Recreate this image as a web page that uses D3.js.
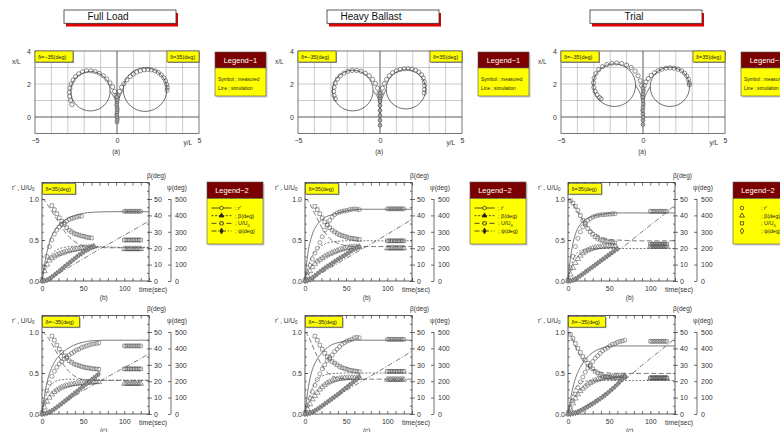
<!DOCTYPE html>
<html>
<head>
<meta charset="utf-8">
<script src="https://cdn.jsdelivr.net/npm/d3@7"></script>
<style>
  body { margin: 0; background: #fff; }
  svg { font-family: "Liberation Sans", Arial, sans-serif; }
</style>
</head>
<body>
<svg id="chart" width="780" height="432"></svg>
<script>
// ---------- data ----------
const conditions = ["Full Load", "Heavy Ballast", "Trial"];
const condKeys = ["FL", "HB", "TR"];

// turning trajectories, points are [y/L, x/L]
const simCircle = { // [centre y/L, centre x/L, radius]
  FLport: [-1.62, 1.56, 1.2], FLstbd: [1.71, 1.66, 1.33],
  HBport: [-1.66, 1.6, 1.24], HBstbd: [1.58, 1.68, 1.2],
  TRport: [-1.75, 1.93, 1.3], TRstbd: [1.64, 1.83, 1.2]
};
const simApproach = {
  FLport: [[0, 0], [-0.02, 0.6], [-0.13, 1.1], [-0.42, 1.56]],
  FLstbd: [[0, 0], [0.02, 0.6], [0.13, 1.15], [0.38, 1.66]],
  HBport: [[0, 0], [-0.02, 0.6], [-0.13, 1.15], [-0.42, 1.6]],
  HBstbd: [[0, 0], [0.02, 0.6], [0.13, 1.15], [0.38, 1.68]],
  TRport: [[0, 0], [-0.02, 0.7], [-0.14, 1.35], [-0.45, 1.93]],
  TRstbd: [[0, 0], [0.02, 0.7], [0.14, 1.3], [0.44, 1.83]]
};
const measTrack = {
  FLport: [[-0.06,1.3],[-0.15,1.55],[-0.27,1.82],[-0.43,2.07],[-0.62,2.3],[-0.84,2.5],[-1.08,2.65],[-1.33,2.75],[-1.6,2.8],[-1.86,2.8],[-2.1,2.74],[-2.33,2.62],[-2.52,2.45],[-2.68,2.24],[-2.8,2.0],[-2.87,1.75],[-2.9,1.5],[-2.88,1.25],[-2.83,1.0],[-2.75,0.75]],
  FLstbd: [[0.05,1.3],[0.15,1.55],[0.28,1.8],[0.42,2.02],[0.6,2.25],[0.8,2.45],[1.0,2.6],[1.2,2.72],[1.42,2.8],[1.65,2.86],[1.88,2.88],[2.1,2.86],[2.32,2.8],[2.52,2.7],[2.7,2.55],[2.85,2.38],[2.96,2.18],[3.03,1.97],[3.06,1.78],[3.06,1.62]],
  HBport: [[-0.06,1.45],[-0.15,1.75],[-0.28,2.03],[-0.45,2.28],[-0.66,2.5],[-0.9,2.66],[-1.16,2.77],[-1.43,2.82],[-1.7,2.82],[-1.96,2.77],[-2.2,2.66],[-2.42,2.5],[-2.6,2.3],[-2.73,2.06],[-2.8,1.8],[-2.83,1.55],[-2.8,1.3],[-2.72,1.1]],
  HBstbd: [[0.06,1.45],[0.15,1.75],[0.26,2.02],[0.4,2.28],[0.57,2.5],[0.77,2.68],[1.0,2.8],[1.24,2.88],[1.48,2.92],[1.72,2.93],[1.95,2.9],[2.17,2.83],[2.37,2.72],[2.53,2.56],[2.64,2.36],[2.7,2.13],[2.72,1.9],[2.72,1.66],[2.7,1.45]],
  TRport: [[-0.08,1.9],[-0.17,2.2],[-0.3,2.5],[-0.48,2.78],[-0.72,3.0],[-1.0,3.15],[-1.3,3.24],[-1.6,3.27],[-1.9,3.25],[-2.2,3.18],[-2.47,3.05],[-2.7,2.87],[-2.87,2.63],[-2.98,2.36],[-3.02,2.08],[-3.0,1.8],[-2.92,1.55],[-2.8,1.35],[-2.65,1.18],[-2.55,1.1]],
  TRstbd: [[0.08,1.9],[0.18,2.12],[0.32,2.33],[0.5,2.52],[0.7,2.68],[0.92,2.8],[1.15,2.9],[1.4,2.96],[1.65,2.98],[1.9,2.96],[2.13,2.9],[2.35,2.8],[2.53,2.66],[2.67,2.48],[2.77,2.28],[2.82,2.06],[2.83,1.95]]
};
const measCentre = {
  FL: [[0,-0.3],[0.02,-0.15],[0,0],[-0.02,0.15],[0,0.3],[0.02,0.45],[0,0.6],[-0.02,0.75],[0,0.9],[0.02,1.05],[0,1.2]],
  HB: [[0,-0.5],[0,-0.2],[0,0.1],[0,0.4],[0,0.7],[0,0.95],[0,1.15],[0,1.3],[0,1.45]],
  TR: [[0,-0.45],[0,-0.2],[0.02,0.0],[0,0.2],[-0.02,0.4],[0,0.6],[0.02,0.8],[0,1.0],[-0.02,1.2],[0,1.4],[0.02,1.6],[0,1.75]]
};

// time histories
const measT = [0,3,6,9,12,15,18,21,24,27,30,33,36,39,42,45,48,51,54,57,60,63,66,69];
const steadyT = [100,102,104,106,108,110,112,114,116,118,120];
const simT = [0,2,4,6,8,10,15,20,25,30,40,50,60,70,80,90,100,110,120,130];

const rMeas = {
  FL35:  [0.02,0.17,0.3,0.42,0.5,0.57,0.62,0.66,0.69,0.71,0.73,0.75,0.76,0.77,0.78,0.79,0.79,null,null,null,null,null,null,null],
  FLm35: [0.02,0.14,0.28,0.38,0.46,0.52,0.57,0.61,0.64,0.67,0.7,0.72,0.74,0.76,0.78,0.79,0.81,0.82,0.83,0.84,0.85,0.855,0.86,0.865],
  HB35:  [0.02,0.1,0.19,0.27,0.34,0.4,0.47,0.54,0.62,0.69,0.74,0.78,0.81,0.83,0.84,0.85,0.855,0.86,0.87,0.875,0.88,0.875,0.87,null],
  HBm35: [0.02,0.1,0.19,0.27,0.35,0.42,0.49,0.55,0.6,0.65,0.69,0.72,0.76,0.79,0.82,0.85,0.87,0.89,0.9,0.91,0.93,0.935,0.93,null],
  TR35:  [0.02,0.15,0.3,0.42,0.52,0.6,0.66,0.71,0.74,0.76,0.78,0.79,0.8,0.805,0.81,0.81,0.815,0.815,0.82,0.82,null,null,null,null],
  TRm35: [0.02,0.08,0.16,0.24,0.32,0.39,0.45,0.51,0.56,0.6,0.64,0.68,0.71,0.74,0.77,0.79,0.81,0.83,0.85,0.86,0.875,0.885,0.89,0.9]
};
const betaMeas = { // deg
  FL35:  [0,6,10,12.5,14,15,15.8,16.5,17,17.5,18,18.4,18.8,19.1,19.4,19.7,20,20.2,20.4,20.6,20.8,21,null,null],
  FLm35: [0,4,7.5,10,12,13.5,14.5,15.5,16.2,16.8,17.3,17.7,18,18.3,18.5,18.7,18.9,19,19.1,19.2,19.3,19.4,19.5,19.5],
  HB35:  [0,3,6,8.5,10.5,12,13,14,15,15.8,16.5,17.2,17.8,18.4,19,19.4,19.8,20.2,20.5,20.7,20.8,20.8,20.8,null],
  HBm35: [0,3,6,9,11,13,15,16.5,17.8,18.8,19.6,20.3,20.8,21.2,21.5,21.7,21.8,21.9,22,22,22,22,22,null],
  TR35:  [0,4,8,11,13.5,15.5,17,18,18.8,19.4,19.9,20.3,20.6,20.8,21,21.1,21.2,21.3,21.3,21.3,null,null,null,null],
  TRm35: [0,3,6.5,9.5,12,14,15.5,16.8,18,19,19.8,20.5,21,21.5,21.9,22.2,22.5,22.7,22.9,23,23.1,23.2,23.2,23.2]
};
const uMeas = {
  FL35:  [null,null,null,null,0.92,0.87,0.82,0.77,0.73,0.69,0.65,0.62,0.6,0.58,0.57,0.56,0.55,0.545,0.535,0.53,0.525,null,null,null],
  FLm35: [null,null,null,null,0.95,0.9,0.84,0.79,0.75,0.71,0.68,0.65,0.63,0.61,0.6,0.59,0.58,0.57,0.565,0.56,0.555,0.55,0.55,0.545],
  HB35:  [null,null,null,null,0.91,0.87,0.82,0.77,0.72,0.68,0.65,0.62,0.6,0.58,0.565,0.555,0.545,0.535,0.525,0.52,0.515,0.51,0.505,null],
  HBm35: [null,null,null,null,0.95,0.9,0.84,0.79,0.74,0.7,0.67,0.64,0.62,0.6,0.58,0.565,0.555,0.545,0.535,0.53,0.525,0.52,0.515,null],
  TR35:  [null,0.98,0.95,0.91,0.86,0.8,0.74,0.69,0.64,0.6,0.57,0.54,0.52,0.505,0.495,0.485,0.48,0.475,0.47,0.465,null,null,null,null],
  TRm35: [null,0.97,0.92,0.86,0.8,0.75,0.7,0.66,0.62,0.58,0.55,0.52,0.5,0.48,0.465,0.455,0.45,0.445,0.44,0.44,0.44,0.44,0.445,0.45]
};
const psiMeas = { // deg
  FL35:  [0,2,6,14,24,36,48,60,73,86,98,110,122,134,146,158,168,178,188,196,204,210,null,null],
  FLm35: [0,2,6,12,20,30,41,52,64,76,88,100,112,124,136,148,160,172,184,196,208,220,232,244],
  HB35:  [0,3,10,20,32,44,56,67,78,88,98,108,118,128,138,147,156,166,176,186,195,202,208,null],
  HBm35: [0,2,6,12,20,29,39,50,61,72,83,94,105,116,128,140,152,164,176,188,200,212,226,null],
  TR35:  [0,2,6,13,22,32,43,54,65,76,87,98,109,120,131,142,153,164,175,186,197,null,null,null],
  TRm35: [0,1,3,7,13,20,28,36,45,54,63,73,83,93,104,115,127,140,153,167,181,196,212,228]
};
// steady turning values measured between 100 and 120 s
const rSteady    = { FL35: 0.85, FLm35: 0.83, HB35: 0.88, HBm35: 0.91, TR35: 0.85, TRm35: 0.886 };
const betaSteady = { FL35: 19.5, FLm35: 18.5, HB35: 20,   HBm35: 21,   TR35: 21,   TRm35: 21.8 };
const uSteady    = { FL35: 0.5,  FLm35: 0.55, HB35: 0.49, HBm35: 0.52, TR35: 0.45, TRm35: 0.44 };

const rSim = {
  FL35:  [0,0.13,0.25,0.35,0.43,0.5,0.61,0.68,0.72,0.76,0.8,0.825,0.838,0.842,0.845,0.845,0.845,0.845,0.845,0.845],
  FLm35: [0,0.15,0.28,0.38,0.46,0.52,0.63,0.7,0.75,0.79,0.845,0.875,0.893,0.898,0.9,0.9,0.9,0.9,0.9,0.9],
  HB35:  [0,0.22,0.37,0.47,0.54,0.6,0.69,0.74,0.78,0.8,0.83,0.855,0.87,0.875,0.875,0.875,0.875,0.875,0.875,0.875],
  HBm35: [0,0.18,0.32,0.43,0.51,0.57,0.67,0.74,0.79,0.83,0.87,0.89,0.9,0.9,0.9,0.9,0.9,0.9,0.9,0.9],
  TR35:  [0,0.2,0.35,0.46,0.54,0.6,0.69,0.74,0.77,0.79,0.81,0.825,0.83,0.83,0.83,0.83,0.83,0.83,0.83,0.83],
  TRm35: [0,0.12,0.23,0.32,0.4,0.46,0.57,0.65,0.71,0.75,0.8,0.825,0.83,0.83,0.83,0.83,0.83,0.83,0.83,0.83]
};
const betaSim = {
  FL35:  [0,5,9,12,14,15.5,18,19.5,20.3,20.8,21.2,21.3,21.2,21,20.8,20.6,20.5,20.5,20.5,20.5],
  FLm35: [0,5,9.5,13,15.5,17,19.5,20.5,21,21.2,21.2,21,20.8,20.7,20.6,20.6,20.6,20.6,20.6,20.6],
  HB35:  [0,5,9,12,14.5,16.5,19.5,21.5,22.8,23.6,24.2,24.5,24.5,24.5,24.5,24.5,24.5,24.5,24.5,24.5],
  HBm35: [0,4,8,11.5,14.5,17,21,23,24,24.5,24.8,25,25,25,25,25,25,25,25,25],
  TR35:  [0,5,9,12.5,15,16.5,18.5,19.3,19.6,19.8,19.8,19.8,19.8,19.8,19.8,19.8,19.8,19.8,19.8,19.8],
  TRm35: [0,4.5,8.5,12,14.5,16.5,19,20,20.3,20.4,20.4,20.4,20.4,20.4,20.4,20.4,20.4,20.4,20.4,20.4]
};
const uSim = {
  FL35:  [1,0.99,0.97,0.94,0.91,0.88,0.8,0.72,0.64,0.57,0.48,0.43,0.415,0.41,0.405,0.405,0.405,0.405,0.405,0.405],
  FLm35: [1,0.99,0.97,0.95,0.92,0.89,0.8,0.71,0.62,0.55,0.46,0.42,0.41,0.41,0.41,0.41,0.41,0.41,0.41,0.41],
  HB35:  [1,0.99,0.97,0.94,0.9,0.86,0.76,0.66,0.58,0.52,0.46,0.43,0.42,0.42,0.42,0.42,0.42,0.42,0.42,0.42],
  HBm35: [1,0.98,0.95,0.91,0.86,0.81,0.7,0.6,0.53,0.48,0.44,0.43,0.425,0.425,0.425,0.425,0.425,0.425,0.425,0.425],
  TR35:  [1,0.99,0.97,0.94,0.91,0.87,0.79,0.71,0.65,0.6,0.54,0.51,0.5,0.495,0.49,0.49,0.49,0.49,0.49,0.49],
  TRm35: [1,0.98,0.95,0.9,0.85,0.8,0.7,0.62,0.57,0.54,0.51,0.5,0.495,0.495,0.495,0.495,0.495,0.495,0.495,0.495]
};
const psiSim = {
  FL35:  [0,1,3,6,10,15,30,45,60,75,105,135,165,195,223,251,280,308,337,365],
  FLm35: [0,1,3,6,10,15,30,46,62,78,110,142,172,200,228,255,283,310,338,368],
  HB35:  [0,1,3,7,12,18,33,48,63,78,108,138,168,197,226,255,285,315,345,378],
  HBm35: [0,1,3,7,12,18,33,49,65,81,112,143,173,203,232,262,292,322,352,385],
  TR35:  [0,1,3,7,12,18,33,50,67,84,118,152,186,220,260,300,340,380,420,465],
  TRm35: [0,1,3,6,10,15,28,43,58,74,108,143,178,213,255,297,338,378,418,462]
};

const legend2Labels = ["r'", "β(deg)", "U/U", "ψ(deg)"];

// ---------- drawing ----------
const svg = d3.select("#chart");
const colDx = [0, 263, 526];
const ink = "#505050";
const series = ["r", "beta", "u", "psi"];
const meas = { r: rMeas, beta: betaMeas, u: uMeas, psi: psiMeas };
const sims = { r: rSim, beta: betaSim, u: uSim, psi: psiSim };
const steady = { r: rSteady, beta: betaSteady, u: uSteady };
const dash = { r: null, beta: "2,1.6", u: "5,2.5", psi: "5,1.8,1,1.8" };
const symType = { r: d3.symbolCircle, beta: d3.symbolTriangle, u: d3.symbolSquare, psi: d3.symbolDiamond };
const symFill = { r: "none", beta: "none", u: "none", psi: "#999" };

function styleAxis(sel, size) {
  sel.select(".domain").remove();
  sel.selectAll("line").attr("stroke", "#333").attr("stroke-width", 0.7);
  sel.selectAll("text").attr("font-size", size || 7).attr("fill", "#333")
    .attr("font-family", "'Liberation Sans', Arial, sans-serif");
}

function yellowTag(g, x, y, w, h, label) {
  g.append("rect").attr("x", x + 1).attr("y", y + 1).attr("width", w).attr("height", h).attr("fill", "#999");
  g.append("rect").attr("x", x).attr("y", y).attr("width", w).attr("height", h)
    .attr("fill", "#ffff00").attr("stroke", "#444").attr("stroke-width", 0.6);
  g.append("text").attr("x", x + 3).attr("y", y + h / 2 + 2).attr("font-size", 5.5).attr("fill", "#222").text(label);
}

// title boxes
conditions.forEach((name, i) => {
  const dx = colDx[i];
  const g = svg.append("g");
  g.append("rect").attr("x", 66 + dx).attr("y", 13).attr("width", 112).attr("height", 13.5).attr("fill", "#dd0000");
  g.append("rect").attr("x", 64 + dx).attr("y", 10).attr("width", 112).attr("height", 13.3)
    .attr("fill", "#fff").attr("stroke", "#333").attr("stroke-width", 0.8);
  g.append("text").attr("x", 108 + dx).attr("y", 20.3).attr("text-anchor", "middle")
    .attr("font-size", 10).attr("fill", "#111").text(name);
});

function drawTrajectory(ci) {
  const dx = colDx[ci];
  const key = condKeys[ci];
  const x = d3.scaleLinear([-5, 5], [35 + dx, 199 + dx]);
  const y = d3.scaleLinear([-1, 4], [133.5, 51]);
  const pxPerUnit = x(1) - x(0);
  const g = svg.append("g");

  g.selectAll(".vg").data(x.ticks(10).filter(v => v > -5 && v < 5)).join("line")
    .attr("x1", d => x(d)).attr("x2", d => x(d)).attr("y1", y(4)).attr("y2", y(-1))
    .attr("stroke", d => d === 0 ? "#333" : "#aaa").attr("stroke-width", d => d === 0 ? 0.8 : 0.6);
  g.selectAll(".hg").data(y.ticks(5).filter(v => v > -1 && v < 4)).join("line")
    .attr("y1", d => y(d)).attr("y2", d => y(d)).attr("x1", x(-5)).attr("x2", x(5))
    .attr("stroke", d => d === 0 ? "#333" : "#aaa").attr("stroke-width", d => d === 0 ? 0.8 : 0.6);
  g.append("rect").attr("x", x(-5)).attr("y", y(4)).attr("width", x(5) - x(-5)).attr("height", y(-1) - y(4))
    .attr("fill", "none").attr("stroke", "#555").attr("stroke-width", 0.8);

  g.append("g").attr("transform", `translate(0,${y(-1)})`)
    .call(d3.axisBottom(x).tickValues([-5, 0, 5]).tickFormat(d3.format("d")).tickSize(0).tickPadding(5))
    .call(styleAxis);
  g.append("g").attr("transform", `translate(${x(-5)},0)`)
    .call(d3.axisLeft(y).tickValues([0, 2, 4]).tickFormat(d3.format("d")).tickSize(0).tickPadding(4))
    .call(styleAxis);
  g.append("text").attr("x", x(-5) - 23).attr("y", y(3.2)).attr("font-size", 6.5).attr("fill", "#333").text("x/L");
  g.append("text").attr("x", x(4.05)).attr("y", y(-1) + 11).attr("font-size", 6.5).attr("fill", "#333").text("y/L");
  g.append("text").attr("x", x(-0.05)).attr("y", y(-1) + 20).attr("text-anchor", "middle")
    .attr("font-size", 6.5).attr("fill", "#333").text("(a)");

  const line = d3.line().x(d => x(d[0])).y(d => y(d[1])).curve(d3.curveCatmullRom);
  ["port", "stbd"].forEach(side => {
    const c = simCircle[key + side];
    g.append("circle").attr("cx", x(c[0])).attr("cy", y(c[1])).attr("r", c[2] * pxPerUnit)
      .attr("fill", "none").attr("stroke", "#333").attr("stroke-width", 0.7);
    g.append("path").attr("d", line(simApproach[key + side]))
      .attr("fill", "none").attr("stroke", "#333").attr("stroke-width", 0.7);
    g.selectAll(null).data(measTrack[key + side]).join("circle")
      .attr("cx", d => x(d[0])).attr("cy", d => y(d[1])).attr("r", 2.1)
      .attr("fill", "none").attr("stroke", "#444").attr("stroke-width", 0.6);
  });
  g.selectAll(null).data(measCentre[key]).join("circle")
    .attr("cx", d => x(d[0])).attr("cy", d => y(d[1])).attr("r", 1.9)
    .attr("fill", "#aaa").attr("stroke", "#444").attr("stroke-width", 0.6);

  yellowTag(g, x(-5), y(4), 38, 11, "δ=−35(deg)");
  yellowTag(g, x(5) - 32, y(4), 32, 11, "δ=35(deg)");

  // Legend-1
  const lx = 215 + dx;
  g.append("rect").attr("x", lx + 1.5).attr("y", 53.5).attr("width", 51).attr("height", 44).attr("fill", "#ccc");
  g.append("rect").attr("x", lx).attr("y", 52).attr("width", 51).attr("height", 16)
    .attr("fill", "#7b0000").attr("stroke", "#555").attr("stroke-width", 0.6);
  g.append("rect").attr("x", lx).attr("y", 68).attr("width", 51).attr("height", 28)
    .attr("fill", "#ffff00").attr("stroke", "#555").attr("stroke-width", 0.6);
  g.append("text").attr("x", lx + 25.5).attr("y", 63).attr("text-anchor", "middle")
    .attr("font-size", 7.5).attr("fill", "#fff").text("Legend−1");
  g.append("text").attr("x", lx + 3).attr("y", 80.5).attr("font-size", 4.8).attr("fill", "#222").text("Symbol ; measured");
  g.append("text").attr("x", lx + 3).attr("y", 89.5).attr("font-size", 4.8).attr("fill", "#222").text("Line ; simulation");
}

function drawTimeHistory(ci, row) {
  const dx = colDx[ci];
  const key = condKeys[ci] + (row === 0 ? "35" : "m35");
  const y0 = row === 0 ? 281 : 414;
  const yTop = y0 - 98.4;
  const t = d3.scaleLinear([0, 130], [42 + dx, 149 + dx]);
  const yl = d3.scaleLinear([0, 1.2], [y0, yTop]);
  const yb = d3.scaleLinear([0, 60], [y0, yTop]);
  const yp = d3.scaleLinear([0, 600], [y0, yTop]);
  const scaleOf = { r: yl, u: yl, beta: yb, psi: yp };
  const g = svg.append("g");

  // axes and ticks
  g.append("g").attr("transform", `translate(0,${yTop})`)
    .call(d3.axisTop(t).tickValues(d3.range(0, 131, 10)).tickFormat("").tickSizeInner(-3).tickSizeOuter(0))
    .call(styleAxis);
  g.append("g").attr("transform", `translate(0,${y0})`)
    .call(d3.axisBottom(t).tickValues(d3.range(0, 131, 10)).tickFormat("").tickSizeInner(-3).tickSizeOuter(0))
    .call(styleAxis);
  g.append("g").attr("transform", `translate(0,${y0})`)
    .call(d3.axisBottom(t).tickValues([0, 50, 100]).tickSize(0).tickPadding(5))
    .call(styleAxis);
  g.append("g").attr("transform", `translate(${t(0)},0)`)
    .call(d3.axisLeft(yl).tickValues([0, 0.5, 1]).tickFormat(d3.format(".1f")).tickSizeInner(-3).tickSizeOuter(0).tickPadding(3))
    .call(styleAxis);
  g.append("g").attr("transform", `translate(${t(0)},0)`)
    .call(d3.axisLeft(yl).tickValues(d3.range(0, 1.21, 0.1)).tickFormat("").tickSizeInner(-1.8).tickSizeOuter(0))
    .call(styleAxis);
  g.append("g").attr("transform", `translate(${t(130)},0)`)
    .call(d3.axisRight(yb).tickValues([0, 10, 20, 30, 40, 50]).tickSizeInner(3).tickSizeOuter(0).tickPadding(2))
    .call(styleAxis);
  g.append("g").attr("transform", `translate(${t(130)},0)`)
    .call(d3.axisRight(yb).tickValues(d3.range(0, 61, 5)).tickFormat("").tickSizeInner(-2).tickSizeOuter(0))
    .call(styleAxis);
  const psiX = t(130) + 22;
  g.append("line").attr("x1", psiX).attr("x2", psiX).attr("y1", yp(0)).attr("y2", yp(500))
    .attr("stroke", "#333").attr("stroke-width", 0.7);
  g.append("g").attr("transform", `translate(${psiX},0)`)
    .call(d3.axisRight(yp).tickValues([0, 100, 200, 300, 400, 500]).tickSizeInner(-3).tickSizeOuter(0).tickPadding(4))
    .call(styleAxis);

  g.append("rect").attr("x", t(0)).attr("y", yTop).attr("width", t(130) - t(0)).attr("height", y0 - yTop)
    .attr("fill", "none").attr("stroke", "#333").attr("stroke-width", 0.8);

  // axis titles
  const lab = g.append("text").attr("x", 12 + dx).attr("y", yTop + 7).attr("font-size", 6.5).attr("fill", "#333");
  lab.append("tspan").text("r' , U/U");
  lab.append("tspan").attr("font-size", 4.5).attr("dy", 1.5).text("0");
  g.append("text").attr("x", t(130) - 2).attr("y", yTop - 5).attr("font-size", 6.5).attr("fill", "#333").text("β(deg)");
  g.append("text").attr("x", t(130) + 18).attr("y", yTop + 7).attr("font-size", 6.5).attr("fill", "#333").text("ψ(deg)");
  g.append("text").attr("x", t(118)).attr("y", y0 + 10.5).attr("font-size", 6.8).attr("fill", "#333").text("time(sec)");
  g.append("text").attr("x", t(75)).attr("y", y0 + 18.5).attr("text-anchor", "middle")
    .attr("font-size", 6.5).attr("fill", "#333").text(row === 0 ? "(b)" : "(c)");

  // simulation lines
  series.forEach(s => {
    const sc = scaleOf[s];
    const ln = d3.line().x((d, i) => t(simT[i])).y(d => sc(d)).curve(d3.curveMonotoneX);
    g.append("path").attr("d", ln(sims[s][key])).attr("fill", "none")
      .attr("stroke", ink).attr("stroke-width", 0.75).attr("stroke-dasharray", dash[s]);
  });

  // measured symbols
  series.forEach(s => {
    const sc = scaleOf[s];
    let pts = measT.map((tt, i) => [tt, meas[s][key][i]]).filter(d => d[1] != null);
    if (steady[s]) pts = pts.concat(steadyT.map(tt => [tt, steady[s][key]]));
    g.selectAll(null).data(pts).join("path")
      .attr("transform", d => `translate(${t(d[0])},${sc(d[1])})`)
      .attr("d", d3.symbol(symType[s], s === "psi" ? 9 : 13))
      .attr("fill", symFill[s]).attr("stroke", ink).attr("stroke-width", 0.55);
  });

  yellowTag(g, t(0) + 0.5, yTop + 1, row === 0 ? 33 : 37, 10.5, row === 0 ? "δ=35(deg)" : "δ=−35(deg)");

  if (row === 0) drawLegend2(g, ci);
}

function drawLegend2(g, ci) {
  const lx = 207 + colDx[ci];
  g.append("rect").attr("x", lx + 1.5).attr("y", 183.5).attr("width", 56).attr("height", 62).attr("fill", "#ccc");
  g.append("rect").attr("x", lx).attr("y", 182).attr("width", 56).attr("height", 16.5)
    .attr("fill", "#7b0000").attr("stroke", "#555").attr("stroke-width", 0.6);
  g.append("rect").attr("x", lx).attr("y", 198.5).attr("width", 56).attr("height", 45.5)
    .attr("fill", "#ffff00").attr("stroke", "#555").attr("stroke-width", 0.6);
  g.append("text").attr("x", lx + 25).attr("y", 193).attr("text-anchor", "middle")
    .attr("font-size", 7.5).attr("fill", "#fff").text("Legend−2");
  const rowY = d3.scalePoint().domain(series).range([208, 231]);
  const symbolsOnly = ci === 2;
  series.forEach((s, k) => {
    const yy = rowY(s);
    if (!symbolsOnly) {
      g.append("line").attr("x1", lx + 4.5).attr("x2", lx + 24.5).attr("y1", yy).attr("y2", yy)
        .attr("stroke", "#222").attr("stroke-width", 0.8).attr("stroke-dasharray", dash[s]);
    }
    g.append("path").attr("transform", `translate(${symbolsOnly ? lx + 9 : lx + 14.5},${yy})`)
      .attr("d", d3.symbol(symType[s], 10))
      .attr("fill", symbolsOnly ? "none" : (s === "beta" || s === "psi" ? "#222" : "#ffff00"))
      .attr("stroke", "#222").attr("stroke-width", 0.7);
    const tx = g.append("text").attr("x", lx + 28).attr("y", yy + 2).attr("font-size", 5.5).attr("fill", "#222")
      .text("; " + legend2Labels[k]);
    if (s === "u") tx.append("tspan").attr("font-size", 4).attr("dy", 1.2).text("0");
  });
}

[0, 1, 2].forEach(ci => {
  drawTrajectory(ci);
  drawTimeHistory(ci, 0);
  drawTimeHistory(ci, 1);
});
</script>
</body>
</html>
